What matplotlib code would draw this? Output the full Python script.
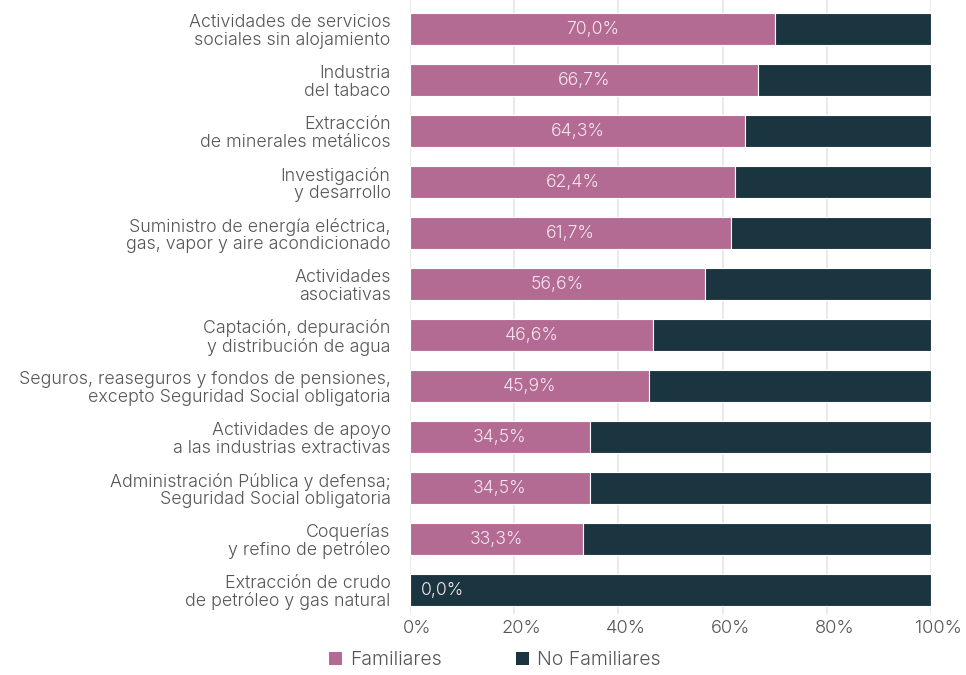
import matplotlib
matplotlib.use("Agg")
import matplotlib.pyplot as plt
import matplotlib.transforms as mtransforms
from matplotlib.patches import Patch

categories = [
    "Actividades de servicios\nsociales sin alojamiento",
    "Industria\ndel tabaco",
    "Extracción\nde minerales metálicos",
    "Investigación\ny desarrollo",
    "Suministro de energía eléctrica,\ngas, vapor y aire acondicionado",
    "Actividades\nasociativas",
    "Captación, depuración\ny distribución de agua",
    "Seguros, reaseguros y fondos de pensiones,\nexcepto Seguridad Social obligatoria",
    "Actividades de apoyo\na las industrias extractivas",
    "Administración Pública y defensa;\nSeguridad Social obligatoria",
    "Coquerías\ny refino de petróleo",
    "Extracción de crudo\nde petróleo y gas natural",
]
familiares = [70.0, 66.7, 64.3, 62.4, 61.7, 56.6, 46.6, 45.9, 34.5, 34.5, 33.3, 0.0]
no_familiares = [100 - v for v in familiares]
xticks = [0, 20, 40, 60, 80, 100]

PINK = "#b36b93"
DARK = "#1b3540"
TXT = "#555555"

plt.rcParams['font.family'] = ['Inter', 'DejaVu Sans']
plt.rcParams['font.weight'] = 300

fig = plt.figure(figsize=(9.66, 6.75), dpi=100)
ax = fig.add_axes([410/966, 1 - 614/675, 521/966, 614/675])

y = list(range(len(categories)))
ax.barh(y, familiares, height=0.63, color=PINK, edgecolor="white", linewidth=0.8, zorder=3)
ax.barh(y, no_familiares, left=familiares, height=0.63, color=DARK, edgecolor="white", linewidth=0.8, zorder=3)

for yi, v in zip(y, familiares):
    lab = f"{v:.1f}%".replace(".", ",")
    if v > 5:
        ax.text(v / 2, yi, lab, ha="center", va="center", color="#f3e6ee", fontsize=12.7, zorder=4)
    else:
        ax.text(2.0, yi, lab, ha="left", va="center", color="#f3e6ee", fontsize=12.7, zorder=4)

ax.set_ylim(11.47, -0.569)
ax.set_xlim(0, 100)
ax.set_yticks(y)
ax.set_yticklabels(categories, fontsize=12.8, color=TXT, linespacing=1.04)
ax.set_xticks(xticks)
ax.set_xticklabels([f"{t}%" for t in xticks], fontsize=13.2, color=TXT)
ax.tick_params(axis="both", length=0)
ax.tick_params(axis="y", pad=14)
ax.tick_params(axis="x", pad=4.5)
ax.grid(axis="x", color="#e6e6e6", linewidth=1.2, zorder=0)
for s in ax.spines.values():
    s.set_visible(False)

offset = mtransforms.ScaledTranslation(7.5 / 100, 0, fig.dpi_scale_trans)
for lbl in ax.get_xticklabels():
    lbl.set_transform(lbl.get_transform() + offset)

handles = [Patch(facecolor=PINK, label="Familiares"), Patch(facecolor=DARK, label="No Familiares")]
fig.legend(handles=handles, loc="center", bbox_to_anchor=(494.5/966, 1 - 660/675), ncol=2,
           frameon=False, fontsize=14, handlelength=0.67, handleheight=0.67,
           handletextpad=0.41, columnspacing=3.8, labelcolor=TXT,
           borderpad=0, borderaxespad=0)

fig.savefig("out.png", dpi=100)
